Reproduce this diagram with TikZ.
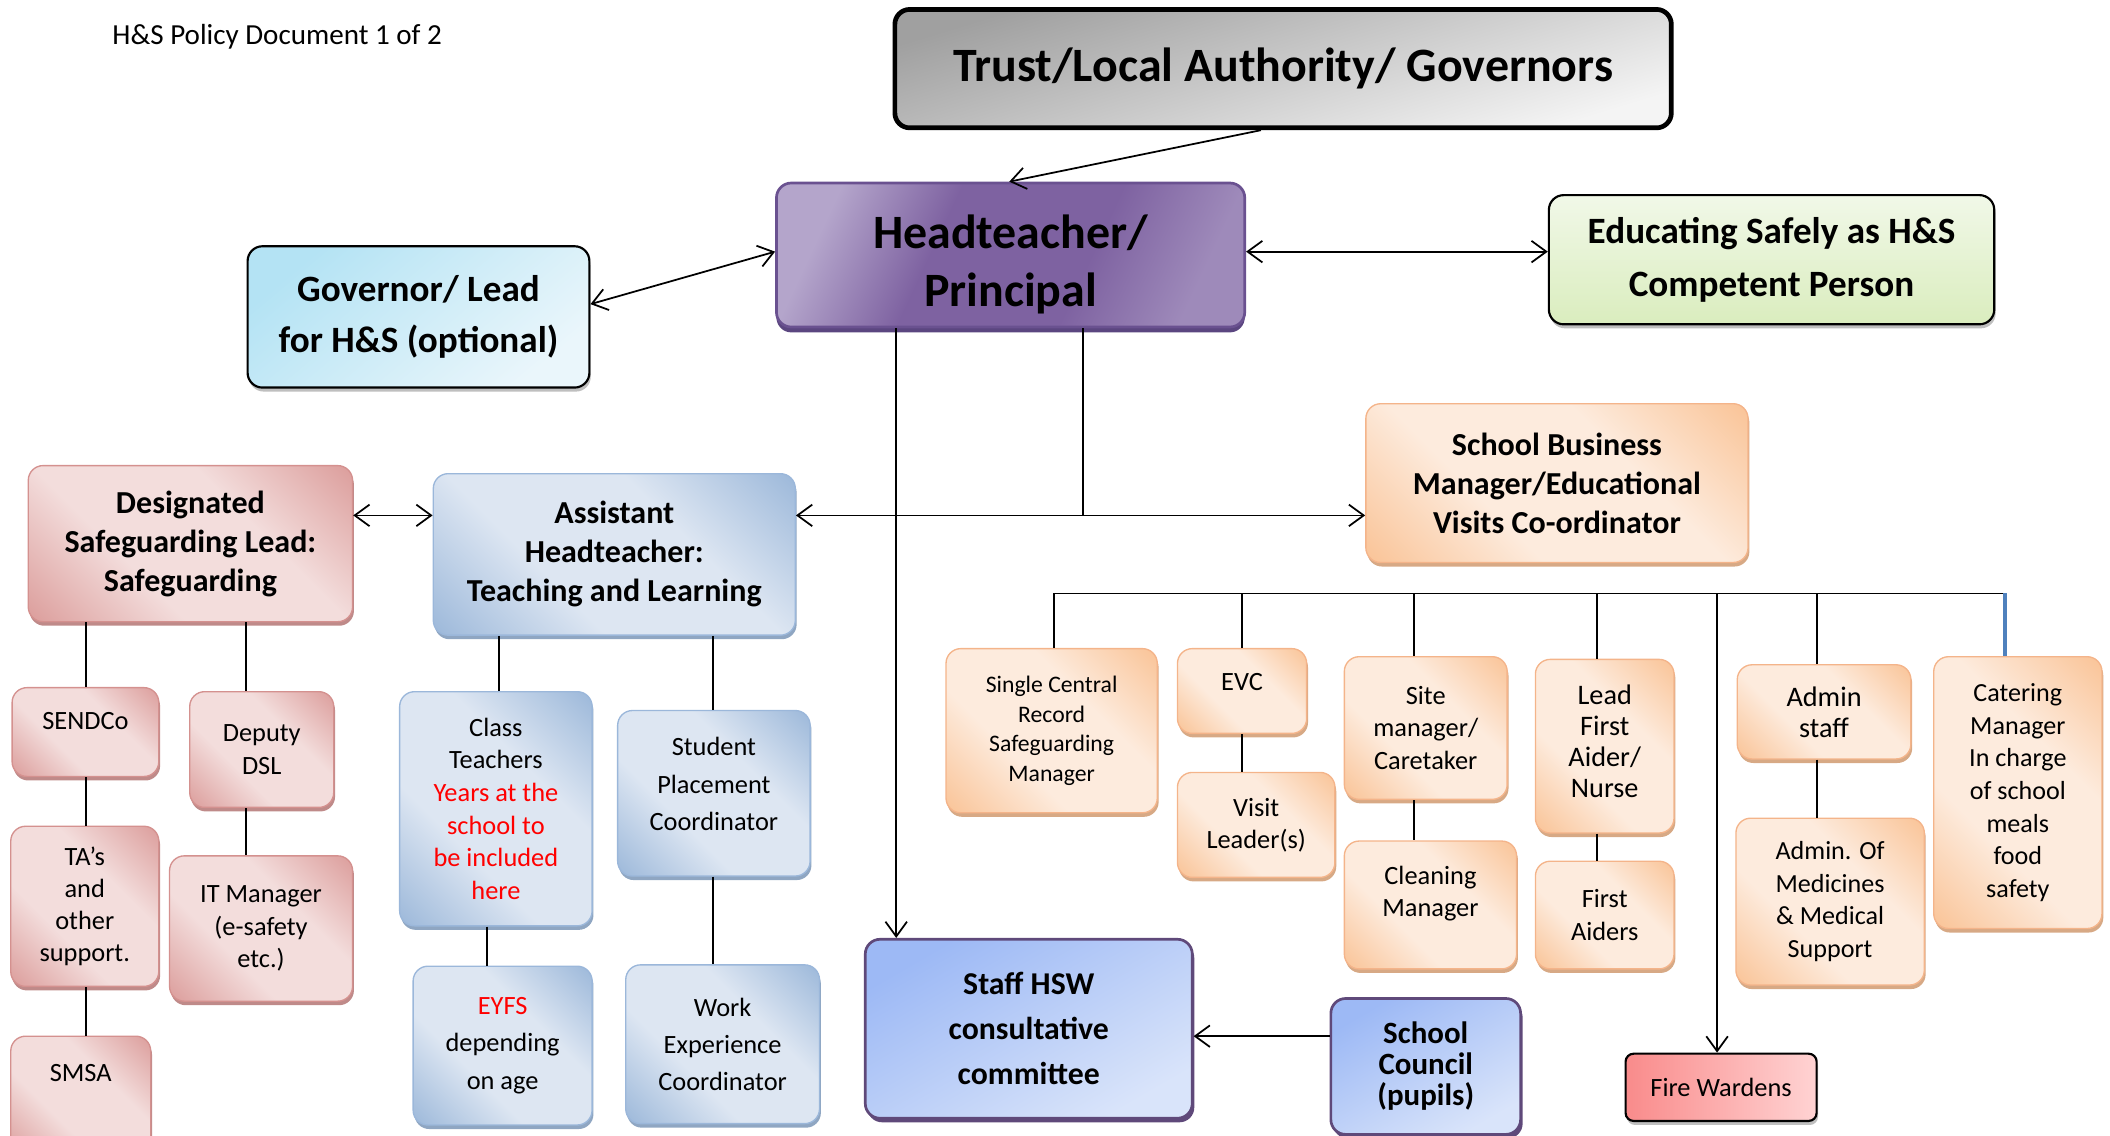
\documentclass[tikz,border=0pt]{standalone}
\usepackage{fontspec}
\setmainfont{Carlito}
\usetikzlibrary{arrows.meta,shadows}

\definecolor{grayD}{HTML}{A0A0A0}
\definecolor{grayL}{HTML}{F4F4F4}
\definecolor{purD}{HTML}{7E62A1}
\definecolor{purL}{HTML}{B4A5CB}
\definecolor{purB}{HTML}{6A5190}
\definecolor{purS}{HTML}{5B4680}
\definecolor{cyanD}{HTML}{B4E3F4}
\definecolor{cyanL}{HTML}{EAF6FB}
\definecolor{greenL}{HTML}{F1F8E8}
\definecolor{greenD}{HTML}{DAEDBE}
\definecolor{orD}{HTML}{F9BF8F}
\definecolor{orL}{HTML}{FDEBDD}
\definecolor{orB}{HTML}{F4B48A}
\definecolor{orS}{HTML}{D7A985}
\definecolor{rdD}{HTML}{D99694}
\definecolor{rdL}{HTML}{F3DDDC}
\definecolor{rdB}{HTML}{D4918F}
\definecolor{rdS}{HTML}{BF8A89}
\definecolor{blD}{HTML}{95B3D7}
\definecolor{blL}{HTML}{DDE6F2}
\definecolor{blB}{HTML}{9BB7DA}
\definecolor{blS}{HTML}{8FA6C2}
\definecolor{hsD}{HTML}{9DB9F5}
\definecolor{hsL}{HTML}{D9E4FA}
\definecolor{hsB}{HTML}{5F497A}
\definecolor{fiD}{HTML}{F98B8B}
\definecolor{fiL}{HTML}{FFD3D3}
\definecolor{catline}{HTML}{4F81BD}

\pgfdeclarehorizontalshading{purshade}{100bp}{color(0bp)=(purL); color(25bp)=(purL); color(40bp)=(purD); color(60bp)=(purD); color(75bp)=(purL!60!purD); color(100bp)=(purL!60!purD)}
\pgfdeclarehorizontalshading{orshade}{100bp}{color(0bp)=(orD); color(12bp)=(orD); color(38bp)=(orL); color(62bp)=(orL); color(88bp)=(orD); color(100bp)=(orD)}
\pgfdeclarehorizontalshading{rdshade}{100bp}{color(0bp)=(rdD); color(12bp)=(rdD); color(38bp)=(rdL); color(62bp)=(rdL); color(88bp)=(rdD); color(100bp)=(rdD)}
\pgfdeclarehorizontalshading{blshade}{100bp}{color(0bp)=(blD); color(12bp)=(blD); color(38bp)=(blL); color(62bp)=(blL); color(88bp)=(blD); color(100bp)=(blD)}

\begin{document}
\begin{tikzpicture}[x=1pt,y=-1pt,>={Straight Barb[length=11pt,width=16pt]}]
        \tikzset{txt/.style 2 args={font=\fontsize{#1}{#2}\selectfont},
                 btxt/.style 2 args={font=\fontsize{#1}{#2}\selectfont\bfseries}}
        \tikzstyle{base}=[rounded corners=11pt,align=center,inner sep=2pt]
        \tikzstyle{graybox}=[base,draw=black,line width=3.5pt,top color=grayD,bottom color=grayL,shading angle=17]
        \tikzstyle{purplebox}=[base,draw=purB,line width=2pt,shade,shading=purshade,shading angle=-25,drop shadow={shadow xshift=0pt,shadow yshift=-4pt,fill=purS,opacity=1}]
        \tikzstyle{cyanbox}=[base,draw=black,line width=1.6pt,top color=cyanD,bottom color=cyanL,shading angle=40,drop shadow={shadow xshift=1pt,shadow yshift=-3pt,fill=black,opacity=0.25}]
        \tikzstyle{greenbox}=[base,draw=black,line width=1.6pt,top color=greenL,bottom color=greenD,drop shadow={shadow xshift=1pt,shadow yshift=-3pt,fill=black,opacity=0.25}]
        \tikzstyle{orangebox}=[base,draw=orB,line width=1pt,shade,shading=orshade,shading angle=45,drop shadow={shadow xshift=1pt,shadow yshift=-3pt,fill=orS,opacity=1}]
        \tikzstyle{redbox}=[base,draw=rdB,line width=1pt,shade,shading=rdshade,shading angle=45,drop shadow={shadow xshift=1pt,shadow yshift=-3pt,fill=rdS,opacity=1}]
        \tikzstyle{bluebox}=[base,draw=blB,line width=1pt,shade,shading=blshade,shading angle=45,drop shadow={shadow xshift=1pt,shadow yshift=-3pt,fill=blS,opacity=1}]
        \tikzstyle{hswbox}=[base,draw=hsB,line width=2pt,top color=hsD,bottom color=hsL,shading angle=30,drop shadow={shadow xshift=1.5pt,shadow yshift=-3pt,fill=hsB,opacity=1}]
        \tikzstyle{firebox}=[base,rounded corners=6pt,draw=black,line width=1.6pt,left color=fiD,right color=fiL,drop shadow={shadow xshift=1pt,shadow yshift=-3pt,fill=black,opacity=0.25}]
        \tikzstyle{link}=[draw,line width=1.3pt]
        \tikzstyle{catlink}=[draw=catline,line width=3pt]

        \useasboundingbox (0,0) rectangle (1568,844);

        \node[anchor=west,txt={21.6}{26}] (title) at (80,27) {H\&S Policy Document 1 of 2};

        % top level
        \node[graybox,btxt={35.6}{43},minimum width=577pt,minimum height=88pt] (trust) at (953.5,51) {Trust/Local Authority/ Governors};
        \node[purplebox,btxt={35.6}{43},minimum width=348pt,minimum height=107pt,text height=82pt] (head) at (751,189.5) {Headteacher/\\Principal};
        \node[cyanbox,btxt={27.6}{38},minimum width=254pt,minimum height=105pt] (gov) at (311,235.5) {Governor/ Lead\\for H\&S (optional)};
        \node[greenbox,btxt={27.6}{39},minimum width=331pt,minimum height=96pt] (edu) at (1316.5,193) {Educating Safely as H\&S\\Competent Person};

        % second level
        \node[orangebox,btxt={23.8}{29},minimum width=284pt,minimum height=118pt] (sbm) at (1157,359) {School Business\\Manager/Educational\\Visits Co-ordinator};
        \node[redbox,btxt={23.8}{29},minimum width=241pt,minimum height=116pt] (dsl) at (141.5,404) {Designated\\Safeguarding Lead:\\Safeguarding};
        \node[bluebox,btxt={23.8}{29},minimum width=269pt,minimum height=120pt] (aht) at (456.5,412) {Assistant\\Headteacher:\\Teaching and Learning};

        % safeguarding
        \node[redbox,txt={19.6}{24},minimum width=109pt,minimum height=66pt,text depth=16pt] (sendco) at (63.5,544) {SENDCo};
        \node[redbox,txt={19.6}{24},minimum width=107pt,minimum height=86pt] (deputy) at (194.5,557) {Deputy\\DSL};
        \node[redbox,txt={19.6}{24},minimum width=110pt,minimum height=119pt] (tas) at (63,673.5) {TA’s\\and\\other\\support.};
        \node[redbox,txt={19.6}{24},minimum width=136pt,minimum height=108pt] (itman) at (194,690) {IT Manager\\(e-safety\\etc.)};
        \node[redbox,txt={19.6}{24},minimum width=104pt,minimum height=90pt,text depth=36pt] (smsa) at (60,815) {SMSA};

        % teaching and learning
        \node[bluebox,txt={19.6}{24.2},minimum width=143pt,minimum height=174pt] (class) at (368.5,601) {Class\\Teachers\\\textcolor{red}{Years at the}\\\textcolor{red}{school to}\\\textcolor{red}{be included}\\\textcolor{red}{here}};
        \node[bluebox,txt={19.6}{28},minimum width=133pt,minimum height=118pt] (eyfs) at (373.5,777) {\textcolor{red}{EYFS}\\depending\\on age};
        \node[bluebox,txt={19.6}{28},minimum width=143pt,minimum height=123pt,text depth=14pt] (place) at (530.5,589.5) {Student\\Placement\\Coordinator};
        \node[bluebox,txt={19.6}{27.5},minimum width=144pt,minimum height=118pt] (work) at (537,776) {Work\\Experience\\Coordinator};

        % committee
        \node[hswbox,btxt={23.6}{33.5},minimum width=243pt,minimum height=133pt] (staff) at (764.5,764.5) {Staff HSW\\consultative\\committee};
        \node[hswbox,btxt={23}{23},minimum width=141pt,minimum height=101pt] (council) at (1059.5,792.5) {School\\Council\\(pupils)};

        % business manager
        \node[orangebox,txt={17.6}{22},minimum width=157pt,minimum height=122pt] (scr) at (781.5,543) {Single Central\\Record\\Safeguarding\\Manager};
        \node[orangebox,txt={19.6}{24},minimum width=96pt,minimum height=63pt,text depth=14pt] (evc) at (923,513.5) {EVC};
        \node[orangebox,txt={19.6}{24},minimum width=117pt,minimum height=78pt] (visit) at (933.5,613) {Visit\\Leader(s)};
        \node[orangebox,txt={19.6}{24.5},minimum width=121pt,minimum height=106pt] (site) at (1059.5,541) {Site\\manager/\\Caretaker};
        \node[orangebox,txt={19.6}{24},minimum width=128pt,minimum height=95pt,text depth=20pt] (clean) at (1063,672.5) {Cleaning\\Manager};
        \node[orangebox,txt={21}{23},minimum width=103pt,minimum height=129pt,text depth=8pt] (lead) at (1192.5,554.5) {Lead\\First\\Aider/\\Nurse};
        \node[orangebox,txt={19.6}{24},minimum width=103pt,minimum height=80pt] (aiders) at (1192.5,680) {First\\Aiders};
        \node[orangebox,txt={21}{23},minimum width=129pt,minimum height=70pt] (admin) at (1355.5,529) {Admin\\staff};
        \node[orangebox,txt={19.4}{24.3},minimum width=140pt,minimum height=124pt] (meds) at (1360,670) {Admin. Of\\Medicines\\\& Medical\\Support};
        \node[orangebox,txt={19.4}{24.3},minimum width=125pt,minimum height=202pt] (cater) at (1499.5,589) {Catering\\Manager\\In charge\\of school\\meals\\food\\safety};
        \node[firebox,txt={19.6}{24},minimum width=142pt,minimum height=50pt] (fire) at (1279,808) {Fire Wardens};

        \coordinate (junc) at (805,383);
        \coordinate (busl) at (783,441);
        \coordinate (busr) at (1490,441);

        % links from the top
        \draw[link,->] (trust.south -| 937,0) -- (head.north -| 750,0);
        \draw[link,<->] (gov.east |- 0,226) -- (head.west |- 0,187);
        \draw[link,<->] (head.east |- 0,187) -- (edu.west |- 0,187);
        \draw[link,->] (head.south -| 666,0) -- (staff.north -| 666,0);
        \draw[link] (head.south -| junc) -- (junc);
        \draw[link,<->] (aht.east |- junc) -- (sbm.west |- junc);
        \draw[link,<->] (dsl.east |- junc) -- (aht.west |- junc);
        \draw[link,->] (council.west |- 0,770) -- (staff.east |- 0,770);

        % trees
        \draw[link] (dsl.south -| 64,0) -- (sendco.north -| 64,0);
        \draw[link] (sendco.south -| 64,0) -- (tas.north -| 64,0);
        \draw[link] (tas.south -| 64,0) -- (smsa.north -| 64,0);
        \draw[link] (dsl.south -| 183,0) -- (deputy.north -| 183,0);
        \draw[link] (deputy.south -| 183,0) -- (itman.north -| 183,0);
        \draw[link] (aht.south -| 371,0) -- (class.north -| 371,0);
        \draw[link] (class.south -| 362,0) -- (eyfs.north -| 362,0);
        \draw[link] (aht.south -| 530,0) -- (place.north -| 530,0);
        \draw[link] (place.south -| 530,0) -- (work.north -| 530,0);

        % bus
        \draw[link] (busl) -- (busr);
        \draw[link] (busl) -- (scr.north -| busl);
        \draw[link] (busl -| evc) -- (evc.north);
        \draw[link] (busl -| 1051,0) -- (site.north -| 1051,0);
        \draw[link] (busl -| 1187,0) -- (lead.north -| 1187,0);
        \draw[link,->] (busl -| 1276,0) -- (fire.north -| 1276,0);
        \draw[link] (busl -| 1350,0) -- (admin.north -| 1350,0);
        \draw[catlink] (busr) -- (cater.north -| busr);
        \draw[link] (evc.south) -- (visit.north -| evc.south);
        \draw[link] (site.south -| 1051,0) -- (clean.north -| 1051,0);
        \draw[link] (lead.south -| 1187,0) -- (aiders.north -| 1187,0);
        \draw[link] (admin.south -| 1350,0) -- (meds.north -| 1350,0);
\end{tikzpicture}
\end{document}
